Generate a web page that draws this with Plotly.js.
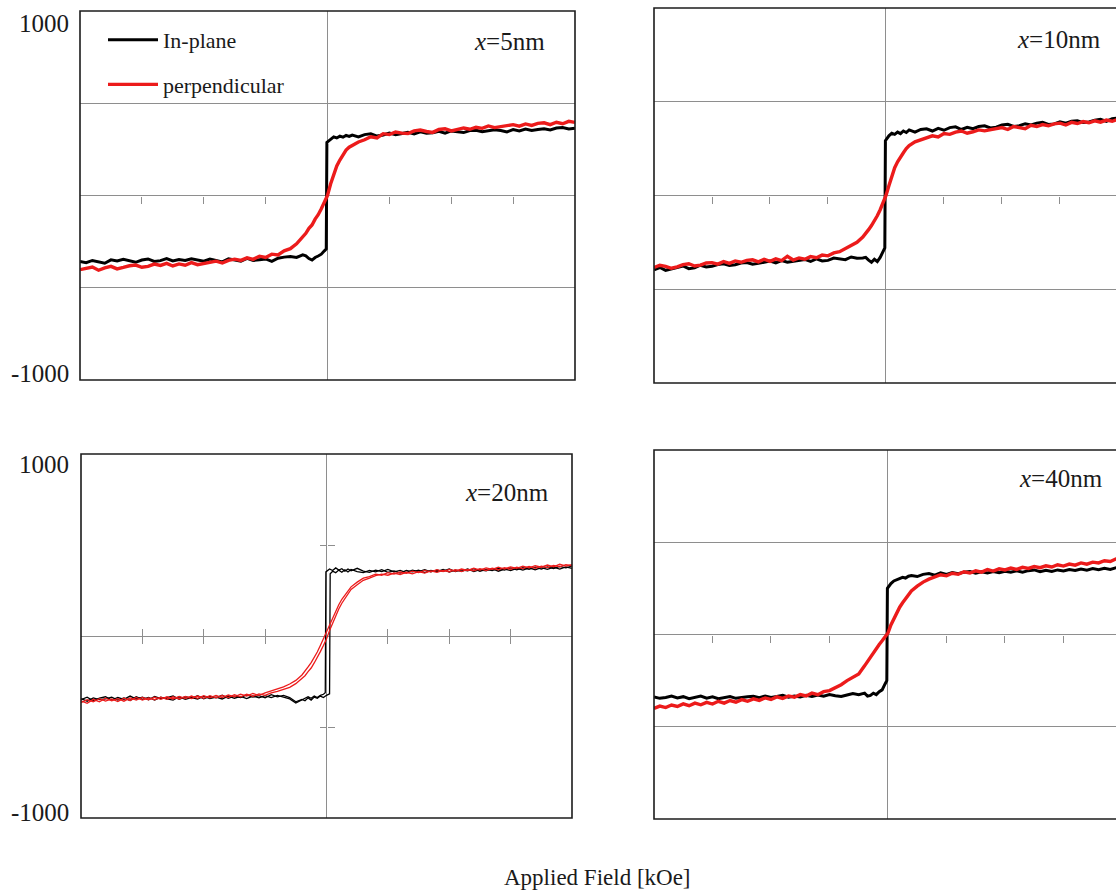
<!DOCTYPE html>
<html><head><meta charset="utf-8">
<script src="https://cdn.plot.ly/plotly-3.0.1.min.js"></script>
<style>html,body{margin:0;padding:0;background:#fff;}#chart{width:1116px;height:895px;}</style>
</head><body><div id="chart"></div>
<script>
// ---------- DATA ----------
const seriesNames = ['In-plane', 'perpendicular'];
const panelThickness = ['5', '10', '20', '40'];      // x = ... nm
const yTickLabels = ['1000', '-1000'];
const xTitle = 'Applied Field [kOe]';

// field grid for perpendicular curves (kOe)
const xg = [-20,-19.5,-19,-18.5,-18,-17.5,-17,-16.5,-16,-15.5,-15,-14.5,-14,-13.5,-13,-12.5,-12,-11.5,-11,-10.5,-10,-9.5,-9,-8.5,-8,-7.5,-7,-6.5,-6,-5.5,-5,-4.5,-4,-3.5,-3,-2.5,-2,
  -1.75,-1.5,-1.25,-1,-0.75,-0.5,-0.25,0,0.25,0.5,0.75,1,1.25,1.5,1.75,
  2,2.5,3,3.5,4,4.5,5,5.5,6,6.5,7,7.5,8,8.5,9,9.5,10,10.5,11,11.5,12,12.5,13,13.5,14,14.5,15,15.5,16,16.5,17,17.5,18,18.5,19,19.5,20];
// field grid for in-plane curves (step just below zero)
const xb = [-20,-19.5,-19,-18.5,-18,-17.5,-17,-16.5,-16,-15.5,-15,-14.5,-14,-13.5,-13,-12.5,-12,-11.5,-11,-10.5,-10,-9.5,-9,-8.5,-8,-7.5,-7,-6.5,-6,-5.5,-5,-4.5,-4,-3.5,-3,-2.5,-2,
  -1.75,-1.5,-1.25,-1,-0.75,-0.5,-0.25,-0.1,-0.05,0.25,0.5,0.75,1,1.25,1.5,1.75,
  2,2.5,3,3.5,4,4.5,5,5.5,6,6.5,7,7.5,8,8.5,9,9.5,10,10.5,11,11.5,12,12.5,13,13.5,14,14.5,15,15.5,16,16.5,17,17.5,18,18.5,19,19.5,20];
// field grid for the x=20nm in-plane ascending branch (step just above zero)
const xbUp = [-20,-19.5,-19,-18.5,-18,-17.5,-17,-16.5,-16,-15.5,-15,-14.5,-14,-13.5,-13,-12.5,-12,-11.5,-11,-10.5,-10,-9.5,-9,-8.5,-8,-7.5,-7,-6.5,-6,-5.5,-5,-4.5,-4,-3.5,-3,-2.5,-2,
  -1.75,-1.5,-1.25,-1,-0.75,-0.5,-0.25,0,0.25,0.3,0.5,0.75,1,1.25,1.5,1.75,
  2,2.5,3,3.5,4,4.5,5,5.5,6,6.5,7,7.5,8,8.5,9,9.5,10,10.5,11,11.5,12,12.5,13,13.5,14,14.5,15,15.5,16,16.5,17,17.5,18,18.5,19,19.5,20];

// x = 5 nm
const p1InPlane = [-358,-364,-352,-361,-367,-349,-355,-346,-356,-362,-350,-344,-357,-353,-342,-355,-347,-352,-343,-349,-356,-345,-354,-360,-343,-351,-356,-341,-352,-348,-344,-357,-340,-334,-331,-336,-322,
  -327,-342,-350,-336,-328,-318,-300,-290,288,306,318,312,322,316,326,320,
  327,318,330,334,322,328,338,330,336,342,334,345,337,340,348,338,350,344,341,352,354,346,349,356,352,345,357,350,360,352,358,362,355,366,369,361,365];
const p1Perp = [-402,-394,-388,-405,-392,-384,-398,-390,-381,-377,-389,-384,-372,-379,-368,-382,-371,-378,-364,-375,-370,-361,-356,-366,-352,-345,-352,-338,-346,-329,-336,-318,-322,-300,-288,-262,-228,
  -205,-178,-160,-128,-104,-72,-40,0,62,118,160,192,218,246,262,
  272,290,302,318,312,335,330,344,338,336,350,355,347,342,358,362,350,356,366,359,370,364,377,368,372,380,384,376,388,380,391,394,384,397,389,402,396];

// x = 10 nm
const p2InPlane = [-396,-384,-399,-391,-380,-376,-390,-386,-372,-381,-377,-368,-364,-373,-369,-360,-357,-366,-362,-354,-350,-359,-347,-356,-350,-344,-341,-352,-338,-349,-346,-334,-338,-342,-328,-335,-333,
  -330,-345,-356,-340,-352,-330,-300,-280,292,318,332,326,338,330,344,336,
  350,338,352,356,344,358,348,362,366,352,364,356,368,372,360,364,376,380,368,372,383,376,386,390,379,382,393,386,396,399,389,392,402,406,395,410,412];
const p2Perp = [-384,-372,-378,-388,-381,-369,-364,-376,-371,-360,-358,-366,-352,-362,-349,-356,-346,-343,-354,-340,-351,-338,-347,-324,-344,-333,-340,-326,-332,-318,-322,-306,-300,-282,-268,-250,-222,
  -205,-182,-160,-136,-108,-76,-38,0,52,100,148,180,208,228,250,
  266,286,296,310,318,312,330,326,338,344,332,340,350,345,352,356,362,352,368,362,356,374,368,378,372,382,386,376,390,384,394,388,398,391,402,396,406];

// x = 20 nm (both loop branches visible)
const p3InPlaneUp = [-350,-336,-356,-342,-334,-352,-338,-348,-330,-346,-336,-350,-332,-344,-338,-330,-348,-334,-342,-328,-345,-332,-340,-326,-342,-330,-338,-324,-336,-328,-340,-322,-334,-326,-338,-362,-348,
  -356,-340,-352,-336,-342,-330,-338,-326,-318,342,356,348,362,350,364,352,
  366,354,348,360,352,364,350,358,346,360,352,362,348,360,354,366,352,362,356,368,354,364,358,370,356,368,360,372,362,374,364,376,366,378,368,380,372];
const p3InPlaneDown = [-344,-358,-340,-350,-346,-336,-352,-340,-354,-334,-348,-338,-352,-336,-346,-352,-334,-348,-338,-346,-332,-344,-336,-346,-330,-342,-332,-344,-330,-340,-328,-338,-326,-336,-346,-368,-352,
  -344,-334,-342,-330,-338,-326,-320,-312,352,368,360,374,362,370,356,368,
  358,372,356,350,362,354,366,352,360,348,362,354,364,352,362,356,368,354,364,358,370,356,366,360,372,362,374,364,376,366,378,368,380,370,382,374,384];
const p3PerpUp = [-366,-350,-362,-344,-358,-346,-360,-342,-354,-338,-352,-340,-350,-336,-348,-334,-346,-332,-344,-330,-342,-328,-340,-326,-338,-322,-334,-320,-332,-318,-326,-312,-304,-294,-282,-262,-236,
  -218,-196,-176,-148,-120,-86,-52,-16,30,72,112,148,180,206,230,
  256,282,306,318,332,340,334,346,338,350,342,354,346,358,350,360,352,364,354,366,358,370,360,372,364,376,366,378,370,382,372,384,376,388,380,392,386];
const p3PerpDown = [-356,-370,-348,-362,-342,-356,-344,-358,-340,-352,-338,-350,-336,-348,-334,-346,-332,-344,-330,-342,-328,-340,-326,-338,-324,-334,-320,-330,-316,-326,-312,-302,-292,-280,-264,-244,-214,
  -194,-170,-146,-118,-88,-52,-14,24,66,104,140,172,202,226,250,
  270,296,318,326,340,334,348,340,352,344,356,348,360,352,364,354,366,356,368,360,372,362,374,366,378,368,380,372,384,374,386,378,390,380,394,384,392];

// x = 40 nm
const p4InPlane = [-338,-346,-341,-334,-344,-337,-348,-340,-334,-345,-338,-348,-341,-336,-346,-344,-338,-335,-342,-333,-341,-336,-330,-340,-333,-338,-330,-336,-328,-334,-326,-332,-336,-328,-320,-326,-318,
  -334,-330,-318,-326,-310,-300,-268,-250,250,276,290,298,304,310,306,316,
  320,314,326,330,322,334,326,336,330,338,341,332,340,333,341,335,343,337,345,338,346,350,340,348,342,350,344,352,347,355,349,357,351,359,353,362,358];
const p4Perp = [-400,-388,-396,-382,-390,-376,-386,-372,-381,-368,-377,-362,-372,-358,-367,-353,-362,-349,-357,-344,-352,-338,-346,-333,-340,-326,-333,-318,-326,-310,-304,-288,-272,-250,-232,-214,-170,
  -146,-120,-102,-76,-54,-34,-12,8,52,86,122,148,172,192,216,
  236,262,284,300,312,324,318,332,326,340,333,345,338,352,344,356,350,360,353,364,358,368,362,372,366,378,371,382,376,388,381,392,388,400,396,410,414];

// ---------- LAYOUT ----------
const W = 1116, H = 895;
const FONT = 'Liberation Serif, Times New Roman, serif';
const GRID = '#8e8e8e', BORDER = '#1c1c1c', TEXT = '#1a1a1a';
const BLACK = '#000000', RED = '#ec1b1b';

// pixel boxes of the four plot areas
const boxes = [
  {l: 80,  r: 575,  t: 11,  b: 380, xr: [-20, 20],    cut: false},
  {l: 654, r: 1116, t: 8,   b: 383, xr: [-20, 19.83], cut: true},
  {l: 81,  r: 572,  t: 454, b: 818, xr: [-20, 20],    cut: false},
  {l: 654, r: 1116, t: 450, b: 819, xr: [-20, 19.49], cut: true}
];
const panelSeries = [
  {inPlane: [[xb, p1InPlane]], perp: [[xg, p1Perp]], wb: 3, wr: 3.4},
  {inPlane: [[xb, p2InPlane]], perp: [[xg, p2Perp]], wb: 3, wr: 3.4},
  {inPlane: [[xbUp, p3InPlaneUp], [xb, p3InPlaneDown]], perp: [[xg, p3PerpUp], [xg, p3PerpDown]], wb: 1.3, wr: 1.3},
  {inPlane: [[xb, p4InPlane]], perp: [[xg, p4Perp]], wb: 3, wr: 3.4}
];
const labelPos = [ {xr: 547, y: 42}, {xr: 1103, y: 40}, {xr: 551, y: 492}, {xr: 1105, y: 478} ];
const TICKX = [-15, -10, -5, 5, 10, 15], TICKY = [-500, 500];

const traces = [];
const layout = {
  width: W, height: H, margin: {l: 0, r: 0, t: 0, b: 0},
  paper_bgcolor: '#fff', plot_bgcolor: 'rgba(0,0,0,0)',
  font: {family: FONT, color: TEXT},
  showlegend: true,
  legend: {x: 103 / W, y: 1 - 19 / H, xanchor: 'left', yanchor: 'top',
    bgcolor: 'rgba(0,0,0,0)', borderwidth: 0, traceorder: 'grouped', tracegroupgap: 13,
    itemwidth: 50, font: {family: FONT, size: 22, color: TEXT}},
  shapes: [], annotations: []
};

boxes.forEach((b, i) => {
  const n = i === 0 ? '' : String(i + 1);
  const xid = 'x' + n, yid = 'y' + n;
  const cross = i === 2;
  // in the crossing-tick panel the perpendicular loop sits on the overlay axes (same ranges)
  const pxid = cross ? 'x5' : xid, pyid = cross ? 'y5' : yid;
  const ps = panelSeries[i];
  ps.inPlane.forEach((s, k) => traces.push({
    type: 'scatter', mode: 'lines', x: s[0], y: s[1], xaxis: xid, yaxis: yid,
    name: seriesNames[0], legendgroup: 'a', showlegend: i === 0 && k === 0,
    line: {color: BLACK, width: ps.wb}, hoverinfo: 'skip'
  }));
  ps.perp.forEach((s, k) => traces.push({
    type: 'scatter', mode: 'lines', x: s[0], y: s[1], xaxis: pxid, yaxis: pyid,
    name: seriesNames[1], legendgroup: 'b', showlegend: i === 0 && k === 0,
    line: {color: RED, width: ps.wr}, hoverinfo: 'skip'
  }));
  const midY = 1 - ((b.t + b.b) / 2) / H, midX = ((b.l + b.r) / 2) / W;
  const xa = {
    domain: [b.l / W, b.r / W], range: b.xr, anchor: 'free', position: midY,
    showline: false, showgrid: false, zeroline: true, zerolinecolor: GRID, zerolinewidth: 1,
    tickmode: 'array', tickvals: TICKX, ticks: 'outside',
    ticklen: 7, tickwidth: 1, tickcolor: GRID, showticklabels: false, fixedrange: true
  };
  const ya = {
    domain: [1 - b.b / H, 1 - b.t / H], range: [-1000, 1000],
    anchor: cross ? 'free' : xid,
    showline: false, showgrid: !cross, gridcolor: GRID, gridwidth: 1,
    zeroline: true, zerolinecolor: GRID, zerolinewidth: 1,
    tickmode: 'array', tickvals: TICKY, ticks: cross ? 'outside' : '',
    ticklen: 7, tickwidth: 1, tickcolor: GRID, showticklabels: false, fixedrange: true
  };
  if (cross) ya.position = midX;
  layout['xaxis' + n] = xa;
  layout['yaxis' + n] = ya;
  if (cross) {
    // second set of tick marks on the other side of the zero lines (crossing ticks)
    layout.xaxis5 = {overlaying: 'x3', anchor: 'free', position: midY, side: 'top',
      range: b.xr, showline: false, showgrid: false, zeroline: false,
      tickmode: 'array', tickvals: TICKX, ticks: 'outside', ticklen: 7, tickwidth: 1, tickcolor: GRID,
      showticklabels: false, fixedrange: true};
    layout.yaxis5 = {overlaying: 'y3', anchor: 'free', position: midX, side: 'right',
      range: [-1000, 1000], showline: false, showgrid: false, zeroline: false,
      tickmode: 'array', tickvals: TICKY, ticks: 'outside', ticklen: 7, tickwidth: 1, tickcolor: GRID,
      showticklabels: false, fixedrange: true};
  }
  layout.shapes.push({type: 'rect', xref: xid + ' domain', yref: yid + ' domain',
    x0: 0, x1: b.cut ? 1.03 : 1, y0: 0, y1: 1, line: {color: BORDER, width: 1.6}, layer: 'above'});
  // panel label
  layout.annotations.push({xref: 'paper', yref: 'paper', x: labelPos[i].xr / W, y: 1 - labelPos[i].y / H,
    xanchor: 'right', yanchor: 'middle', showarrow: false,
    text: '<i>x</i>=' + panelThickness[i] + 'nm', font: {family: FONT, size: 25, color: TEXT}});
  // y tick labels on left panels
  if (i === 0 || i === 2) {
    const topOff = i === 0 ? 13 : 11, botOff = i === 0 ? 7 : 6;
    layout.annotations.push({xref: 'paper', yref: 'paper', x: 71 / W, y: 1 - (b.t + topOff) / H,
      xanchor: 'right', yanchor: 'middle', showarrow: false, text: yTickLabels[0],
      font: {family: FONT, size: 25, color: TEXT}});
    layout.annotations.push({xref: 'paper', yref: 'paper', x: 71 / W, y: 1 - (b.b - botOff) / H,
      xanchor: 'right', yanchor: 'middle', showarrow: false, text: yTickLabels[1],
      font: {family: FONT, size: 25, color: TEXT}});
  }
});
layout.annotations.push({xref: 'paper', yref: 'paper', x: 597 / W, y: 1 - 877 / H,
  xanchor: 'center', yanchor: 'middle', showarrow: false, text: xTitle,
  font: {family: FONT, size: 23, color: TEXT}});

Plotly.newPlot('chart', traces, layout, {displayModeBar: false, staticPlot: true});
</script></body></html>
